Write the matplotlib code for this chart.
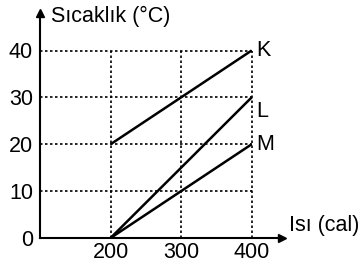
import matplotlib
matplotlib.use("Agg")
import matplotlib.pyplot as plt

plt.rcParams['font.family'] = ['Liberation Sans', 'DejaVu Sans']

# Data
series_names = ["K", "L", "M"]
heat = [200, 400]
temp_K = [20, 40]
temp_L = [0, 30]
temp_M = [0, 20]
x_ticks = [200, 300, 400]
y_ticks = [0, 10, 20, 30, 40]
x_label = "Isı (cal)"
y_label = "Sıcaklık (°C)"

FS = 15.5
W, H = 361, 270
fig = plt.figure(figsize=(W / 100, H / 100), dpi=100)
# axes in pixel geometry: x from 40 to 282, y from 238 (bottom) to 13 (top)
ax = fig.add_axes([40 / W, (H - 238) / H, (282 - 40) / W, (238 - 13) / H])
ax.set_xlim(100, 443)
ax.set_ylim(0, 48)
ax.patch.set_alpha(0)

for s in ["top", "right"]:
    ax.spines[s].set_visible(False)
for s in ["left", "bottom"]:
    ax.spines[s].set_linewidth(1.5)
    ax.spines[s].set_color("black")

ax.set_xticks(x_ticks)
ax.set_yticks(y_ticks)
ax.tick_params(length=0, labelsize=FS, colors="black")
ax.tick_params(axis="y", pad=5)
ax.tick_params(axis="x", pad=3)

# arrows
ax.plot([1], [0], ">k", transform=ax.transAxes, clip_on=False, markersize=6)
ax.plot([0], [1], "^k", transform=ax.transAxes, clip_on=False, markersize=6)

# dotted grid
dot = (0, (1.5, 1.5))
for yv in y_ticks[1:]:
    ax.plot([100, 400], [yv, yv], color="black", lw=1.2, linestyle=dot)
for xv in x_ticks:
    ax.plot([xv, xv], [0, 40], color="black", lw=1.2, linestyle=dot)

# series
for name, vals in zip(series_names, [temp_K, temp_L, temp_M]):
    ax.plot(heat, vals, color="black", lw=1.8, solid_capstyle="butt")

label_y = {"K": 40, "L": 27, "M": 20}
for name in series_names:
    ax.text(406, label_y[name], name, fontsize=FS, va="center", ha="left")

ax.text(51, H - 16, y_label, transform=None, fontsize=FS, va="center", ha="left")
ax.text(289, H - 225, x_label, transform=None, fontsize=FS, va="center", ha="left")

fig.savefig("out.png", dpi=100)
